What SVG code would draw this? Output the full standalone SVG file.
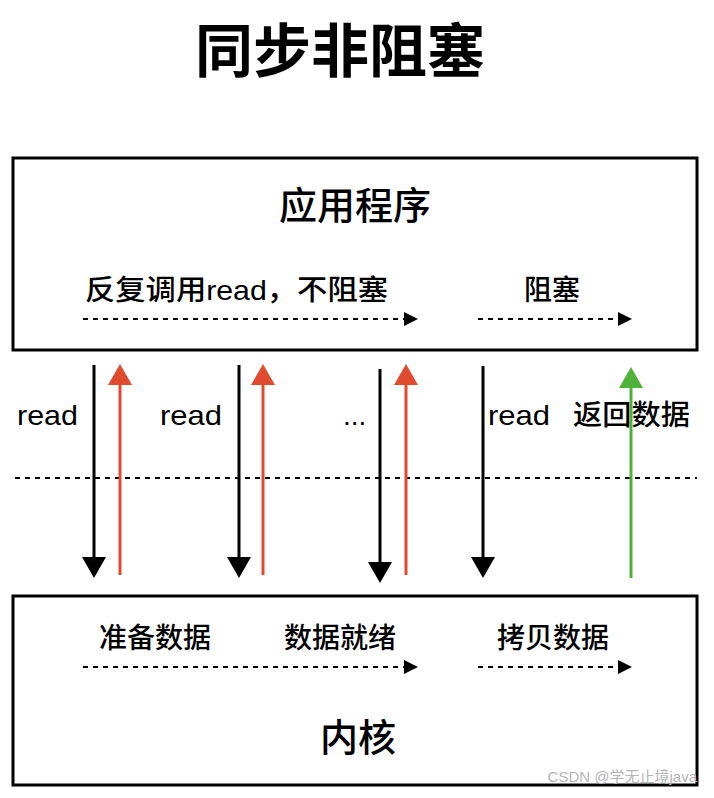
<svg xmlns="http://www.w3.org/2000/svg" width="714" height="798" viewBox="0 0 714 798">
<style>
text{font-family:"Liberation Sans","Noto Sans CJK SC",sans-serif;fill:#000;font-weight:500}
.box{fill:#fff;stroke:#000;stroke-width:3}
.dash{stroke:#000;stroke-width:2;stroke-dasharray:5 5;fill:none}
.lbl{font-size:28px}
.down{stroke:#000;stroke-width:3;marker-end:url(#hb)}
.upr{stroke:#e04a2f;stroke-width:3;marker-end:url(#hr)}
.upg{stroke:#4fb13a;stroke-width:3;marker-end:url(#hg)}
</style>
<defs>
<marker id="hb" markerWidth="7" markerHeight="8" refX="1" refY="4" orient="auto" markerUnits="strokeWidth"><path d="M0,0 L7,4 L0,8 z" fill="#000"/></marker>
<marker id="hr" markerWidth="7" markerHeight="8" refX="1" refY="4" orient="auto" markerUnits="strokeWidth"><path d="M0,0 L7,4 L0,8 z" fill="#e04a2f"/></marker>
<marker id="hg" markerWidth="7" markerHeight="8" refX="1" refY="4" orient="auto" markerUnits="strokeWidth"><path d="M0,0 L7,4 L0,8 z" fill="#4fb13a"/></marker>
<marker id="hd" markerWidth="7" markerHeight="7" refX="1" refY="3.5" orient="auto" markerUnits="strokeWidth"><path d="M0,0 L7,3.5 L0,7 z" fill="#000"/></marker>
</defs>
<rect width="714" height="798" fill="#fff"/>
<text x="340" y="72" font-size="58" style="font-weight:600" text-anchor="middle">同步非阻塞</text>

<g id="app">
<rect class="box" x="13" y="158" width="684" height="192"/>
<text x="355" y="219" font-size="38" text-anchor="middle">应用程序</text>
<text x="85" y="300" class="lbl" textLength="303" lengthAdjust="spacingAndGlyphs">反复调用read，不阻塞</text>
<text x="552" y="300" class="lbl" text-anchor="middle">阻塞</text>
</g>

<g id="kernel">
<rect class="box" x="13" y="596" width="684" height="189"/>
<text x="155" y="648" class="lbl" text-anchor="middle">准备数据</text>
<text x="340" y="648" class="lbl" text-anchor="middle">数据就绪</text>
<text x="553" y="648" class="lbl" text-anchor="middle">拷贝数据</text>
<text x="358" y="751" font-size="38" text-anchor="middle">内核</text>
</g>

<g id="labels">
<text x="17" y="425" class="lbl" textLength="61" lengthAdjust="spacingAndGlyphs">read</text>
<text x="160" y="425" class="lbl" textLength="62" lengthAdjust="spacingAndGlyphs">read</text>
<text x="343" y="425" class="lbl">...</text>
<text x="488" y="425" class="lbl" textLength="62" lengthAdjust="spacingAndGlyphs">read</text>
<text x="573" y="425" class="lbl" textLength="117" lengthAdjust="spacingAndGlyphs">返回数据</text>
</g>

<g id="connectors">
<path class="dash" d="M83,319 H406" marker-end="url(#hd)"/>
<path class="dash" d="M478,319 H620" marker-end="url(#hd)"/>
<path class="dash" d="M83,667 H406" marker-end="url(#hd)"/>
<path class="dash" d="M478,667 H620" marker-end="url(#hd)"/>
<path d="M15,478 H697" stroke="#000" stroke-width="2" stroke-dasharray="5 5"/>
<line class="down" x1="94" y1="365" x2="94" y2="560"/>
<line class="upr" x1="120" y1="575" x2="120" y2="382"/>
<line class="down" x1="239" y1="365" x2="239" y2="560"/>
<line class="upr" x1="263" y1="575" x2="263" y2="382"/>
<line class="down" x1="380" y1="369" x2="380" y2="565"/>
<line class="upr" x1="406" y1="575" x2="406" y2="382"/>
<line class="down" x1="483" y1="366" x2="483" y2="560"/>
<line class="upg" x1="631" y1="578" x2="631" y2="385"/>
</g>

<text x="697" y="782" font-size="15" style="fill:#b5b5b5;font-weight:400" text-anchor="end">CSDN @学无止境java</text>
</svg>
